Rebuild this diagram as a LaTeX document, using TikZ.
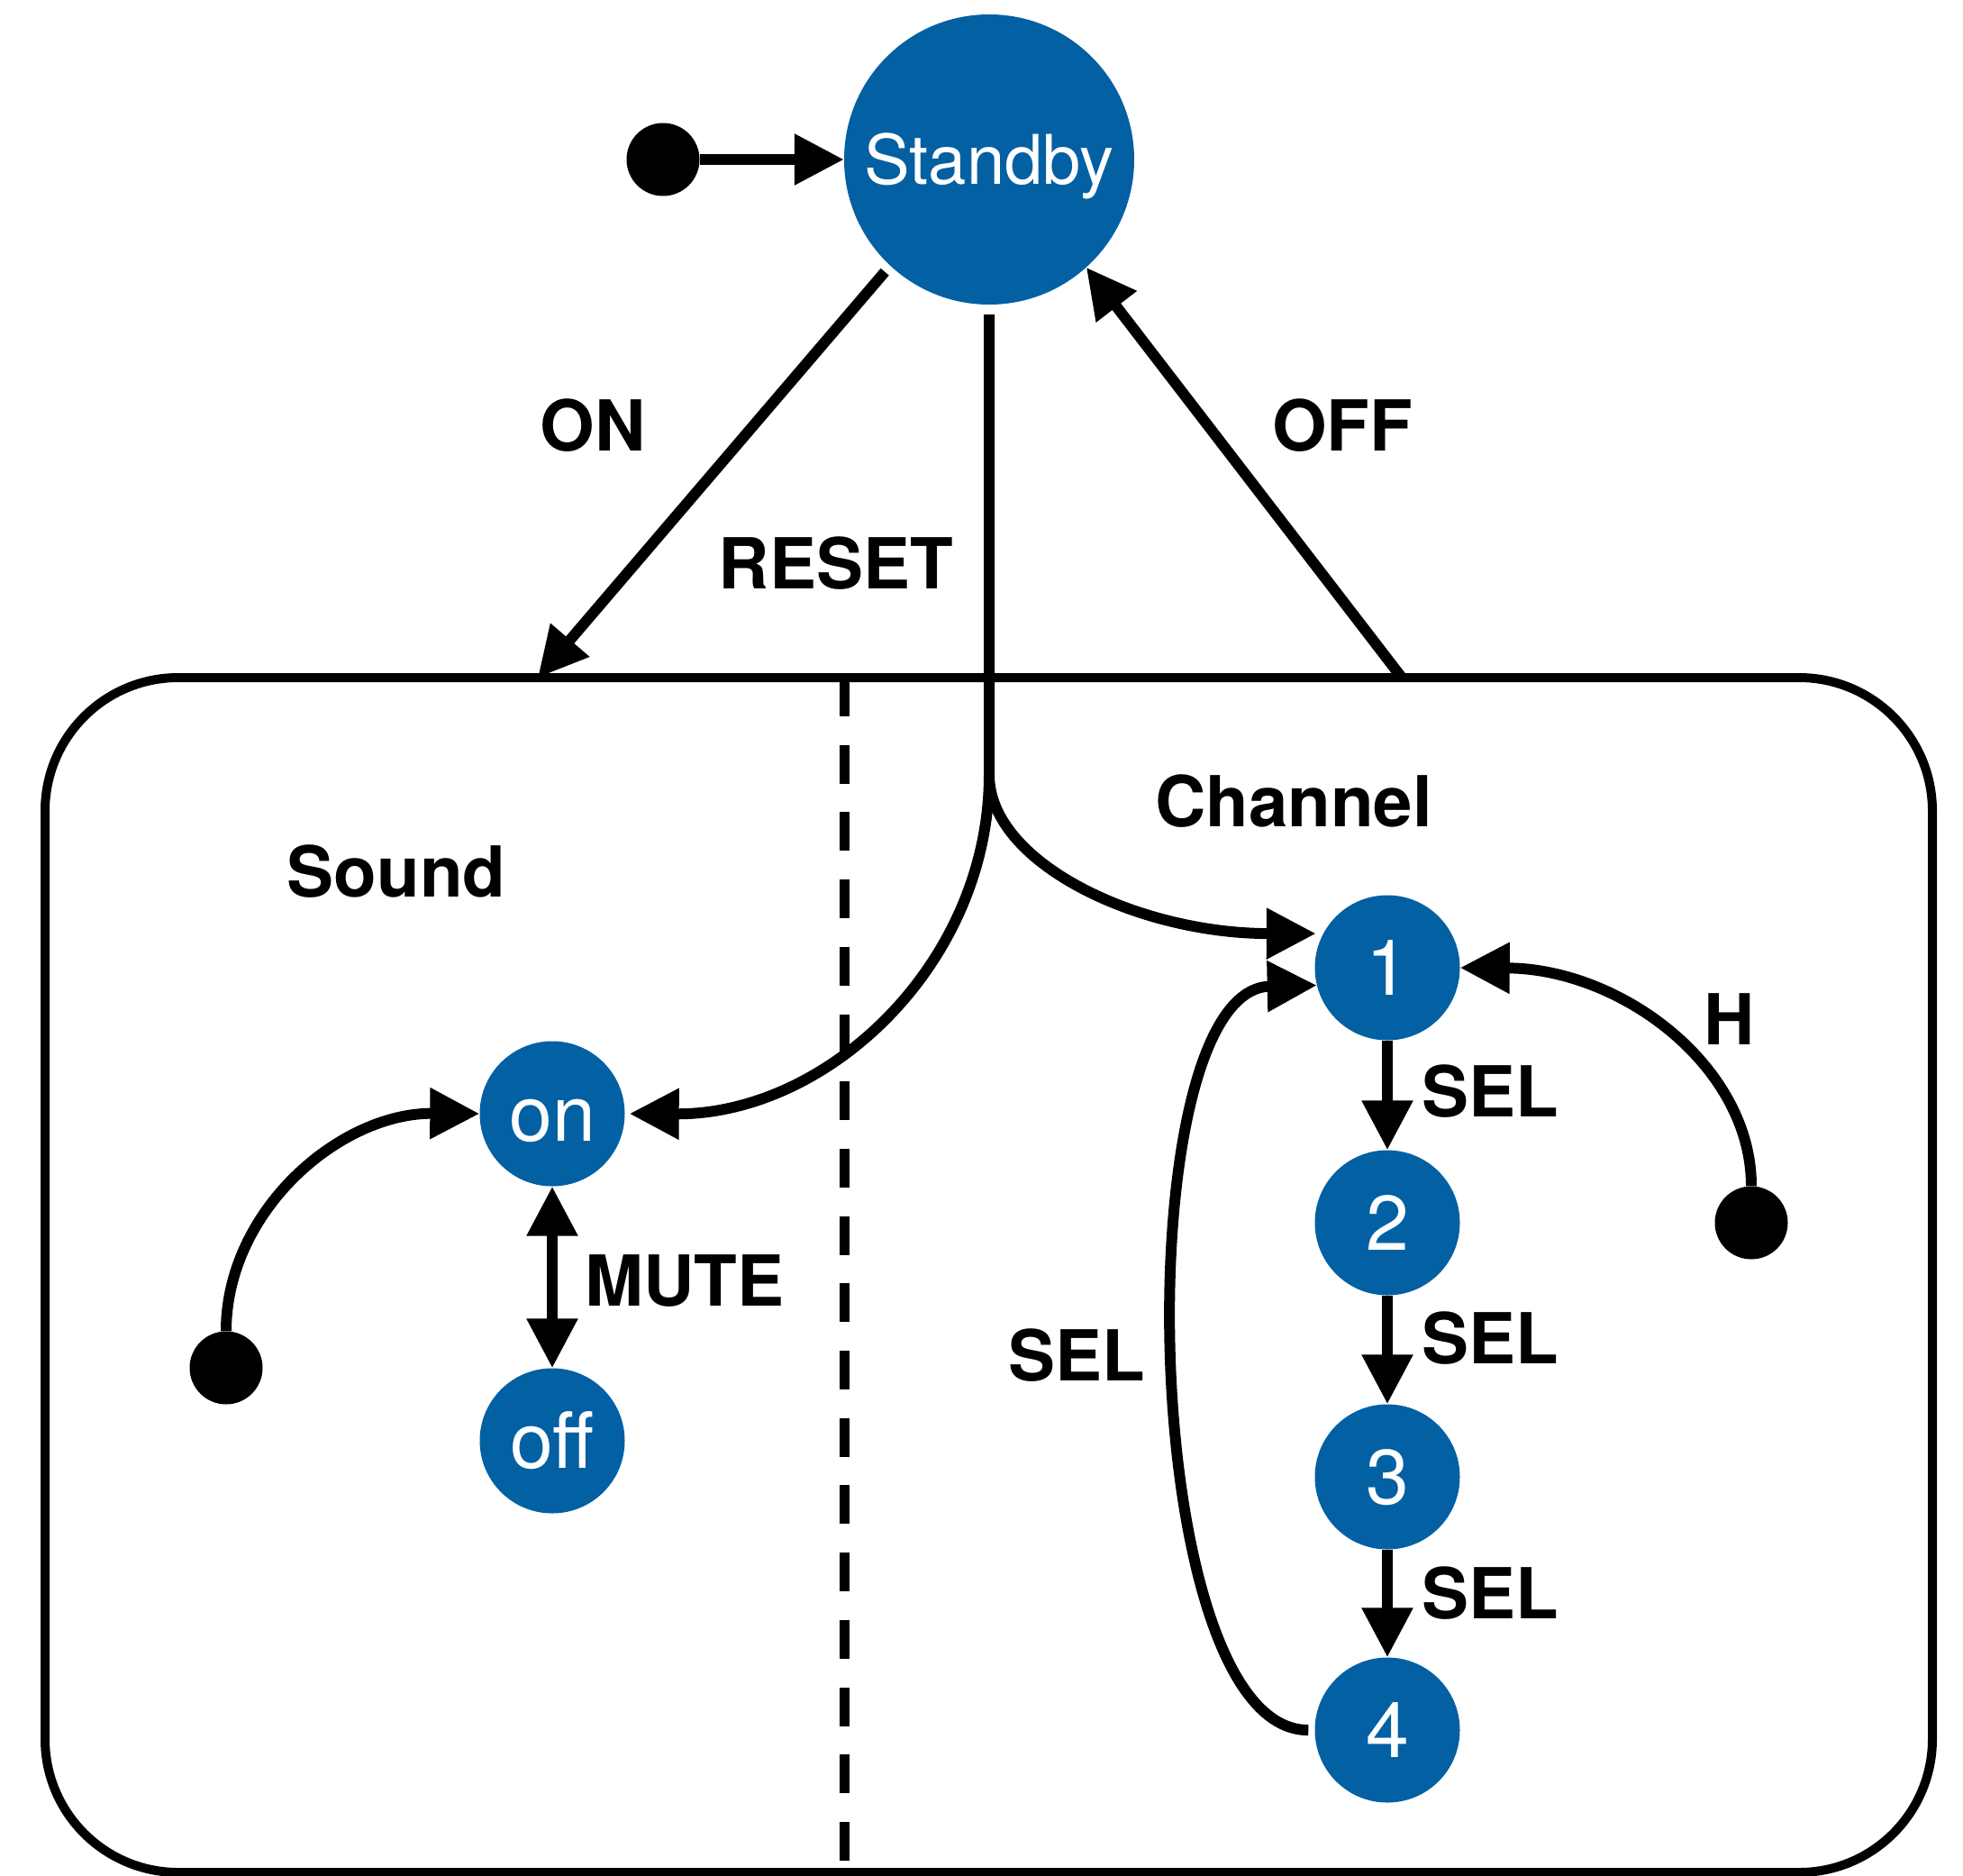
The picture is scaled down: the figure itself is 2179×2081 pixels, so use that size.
\documentclass[tikz,border=0pt]{standalone}
\usepackage{fontspec}
\setmainfont{TeX Gyre Heros}
\usetikzlibrary{arrows.meta}
\definecolor{stateblue}{RGB}{3,96,163}
\begin{document}
\begin{tikzpicture}[x=1pt,y=-1pt,
  bigstate/.style={circle,fill=stateblue,text=white,minimum size=322pt,inner sep=0pt,
    font=\fontsize{76}{80}\selectfont,text height=55pt,text depth=0pt},
  state/.style={circle,fill=stateblue,text=white,minimum size=161pt,inner sep=0pt,
    font=\fontsize{86}{90}\selectfont,text height=60pt,text depth=0pt},
  initdot/.style={circle,fill=black,minimum size=81pt,inner sep=0pt},
  lbl/.style={font=\fontsize{78}{80}\selectfont\bfseries,anchor=base,inner sep=0pt},
  conn/.style={line width=12pt,-{Triangle[length=55pt,width=54pt]}},
  dblconn/.style={line width=12pt,{Triangle[length=55pt,width=54pt]}-{Triangle[length=55pt,width=54pt]}},
  region/.style={draw,line width=10pt,rounded corners=148pt,minimum width=2095pt,minimum height=1326pt,inner sep=0pt},
  divider/.style={line width=11pt,dash pattern=on 43pt off 31.7pt}
]
\useasboundingbox (0,0) rectangle (2179,2081);

% container
\node[region] (tv) at (1097.5,1415) {};
\coordinate (dashTop) at (937,752);
\coordinate (dashBot) at (937,2090);
\draw[divider] (dashTop) -- (dashBot);

% states
\node[bigstate] (standby) at (1098,177) {Standby};
\node[initdot] (dot0) at (736,177) {};
\node[state] (on) at (613,1236) {on};
\node[state] (off) at (613,1599) {off};
\node[initdot] (dot1) at (251,1518) {};
\node[state] (n1) at (1540,1074) {1};
\node[state] (n2) at (1540,1357) {2};
\node[state] (n3) at (1540,1639) {3};
\node[state] (n4) at (1540,1920) {4};
\node[initdot] (dot2) at (1944,1357) {};

\coordinate (onEnd) at (597,752);
\coordinate (offStart) at (1556,752);
\coordinate (split) at (1098,860);

% labels
\node[lbl] (lON) at (658,500) {ON};
\node[lbl] (lOFF) at (1490,500) {OFF};
\node[lbl] (lRESET) at (928,653) {RESET};
\node[lbl] (lSound) at (440,995) {Sound};
\node[lbl] (lChannel) at (1436,917) {Channel};
\node[lbl] (lMUTE) at (760,1449) {MUTE};
\node[lbl] (lH) at (1920,1159) {H};
\node[lbl] (lSEL1) at (1654,1239) {SEL};
\node[lbl] (lSEL2) at (1654,1513) {SEL};
\node[lbl] (lSEL3) at (1654,1796) {SEL};
\node[lbl] (lSEL4) at (1195,1532) {SEL};

% connectors
\draw[conn] (dot0) -- (standby);
\draw[conn,shorten <=9pt] (standby.227) -- (onEnd);
\draw[conn] (offStart) -- (standby.312);
\draw[conn,shorten <=11pt,shorten >=5pt] (standby.south) -- (split)
   .. controls (1098,1068) and (920,1237) .. (on.east);
\draw[conn,shorten >=8pt] (split) .. controls (1098,957) and (1262,1036) .. (n1.152);
\draw[conn] (dot1.north) .. controls (251,1344) and (377,1235) .. (on.west);
\draw[dblconn] (on) -- (off);
\draw[conn] (n1) -- (n2);
\draw[conn] (n2) -- (n3);
\draw[conn] (n3) -- (n4);
\draw[conn,shorten <=7pt] (n4.west) .. controls (1262,1921) and (1248,1098) .. (n1.194);
\draw[conn] (dot2.north) .. controls (1944,1183) and (1799,1075) .. (n1.east);
\end{tikzpicture}
\end{document}
